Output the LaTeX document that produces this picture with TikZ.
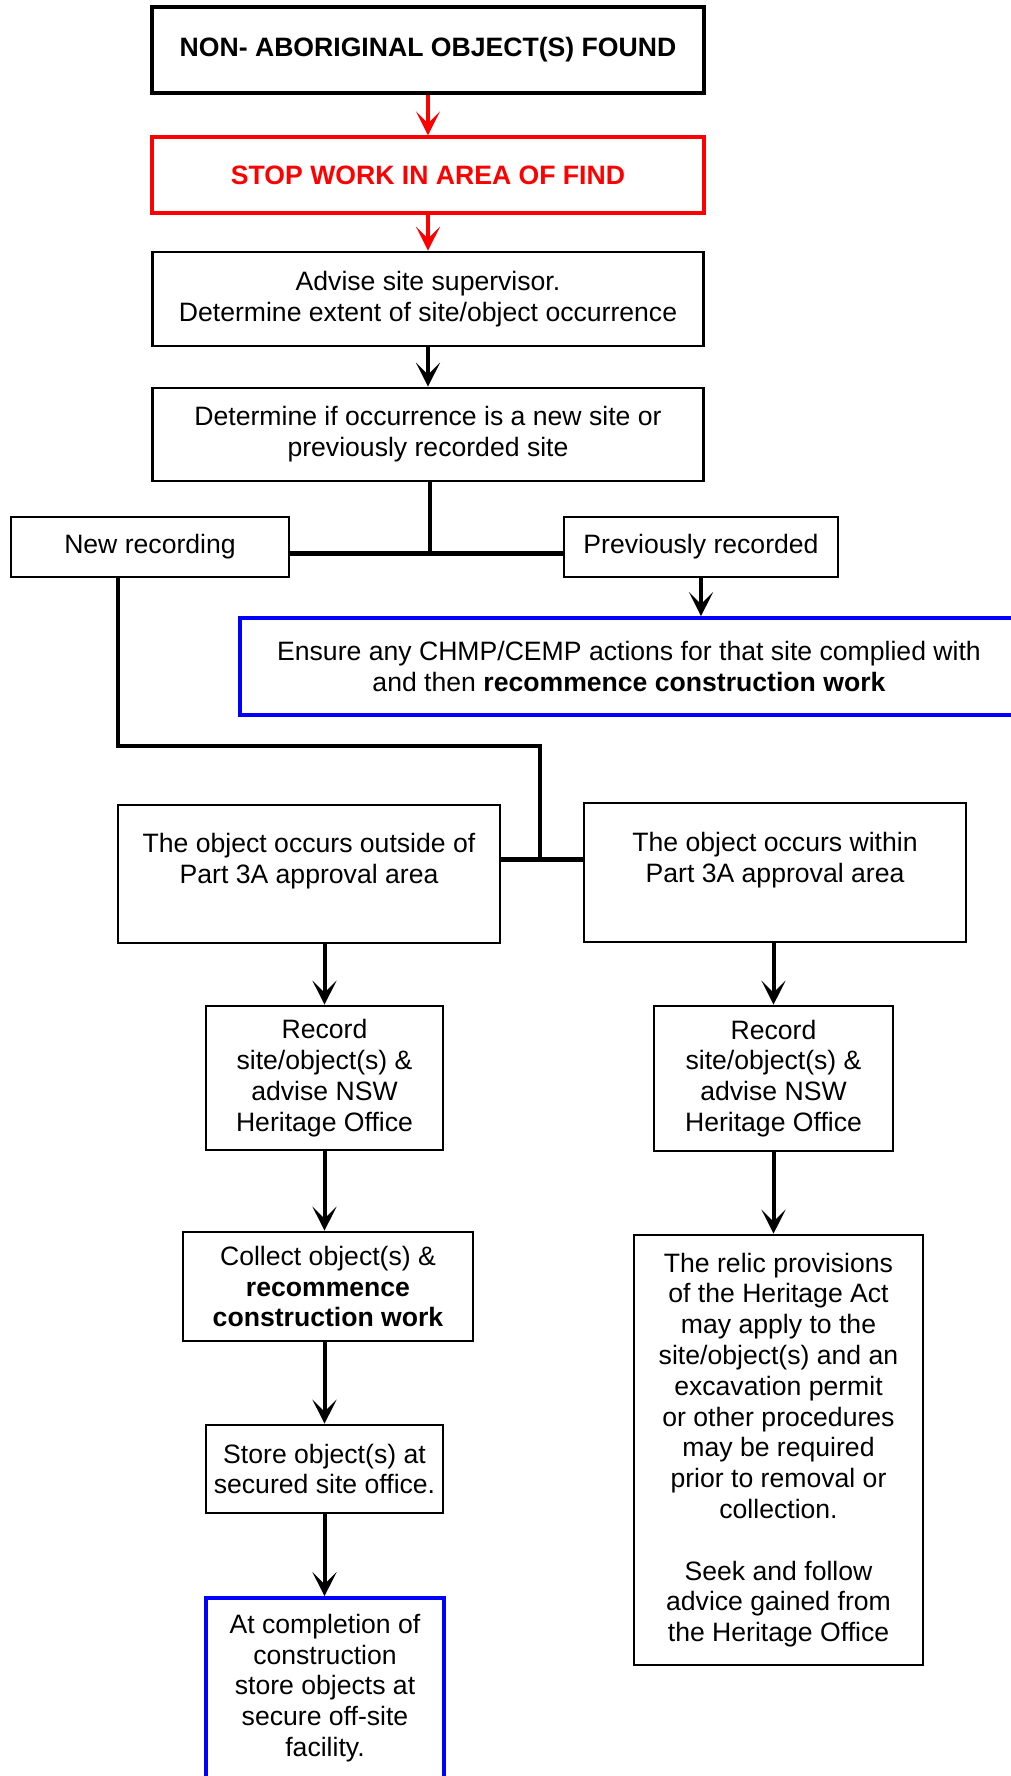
\documentclass[tikz,border=0pt]{standalone}
\usepackage{fontspec}
\setmainfont{Liberation Sans}
\usepackage{tikz}
\usetikzlibrary{arrows.meta}
\definecolor{stopred}{HTML}{FF0000}
\definecolor{resumeblue}{HTML}{0000FF}
\newcommand{\boxfont}{\fontsize{13.3}{15.4}\selectfont}

\begin{document}
\begin{tikzpicture}[x=0.5pt, y=0.5pt,
  >={Stealth[length=12pt, width=12pt, inset=6pt]},
  box/.style={draw, line width=1.3pt, align=center, inner sep=2pt, font=\boxfont},
  redbox/.style={box, draw=stopred, text=stopred, line width=1.6pt, font=\boxfont\bfseries},
  bluebox/.style={box, draw=resumeblue, line width=1.8pt},
  flow/.style={->, line width=2pt},
  link/.style={line width=2pt}]

  \useasboundingbox (0,0) rectangle (1011,-1776);

  % --- Find and stop ---
  \node[box, line width=1.8pt, font=\boxfont\bfseries, minimum width=276pt, minimum height=43pt]
    (found) at (428,-50) {NON- ABORIGINAL OBJECT(S) FOUND};
  \node[redbox, minimum width=276pt, minimum height=38pt]
    (stop) at (428,-175) {STOP WORK IN AREA OF FIND};
  \node[box, minimum width=275.5pt, minimum height=47pt]
    (advise) at (428,-299) {Advise site supervisor.\\Determine extent of site/object occurrence};
  \node[box, minimum width=275.5pt, minimum height=46.5pt]
    (determine) at (428,-434.5) {Determine if occurrence is a new site or\\previously recorded site};

  \draw[flow, stopred] (found) -- (stop);
  \draw[flow, stopred] (stop) -- (advise);
  \draw[flow] (advise) -- (determine);

  % --- New or previously recorded ---
  \node[box, minimum width=139pt, minimum height=30pt] (newrec) at (150,-547) {New recording};
  \node[box, minimum width=137pt, minimum height=30pt] (prevrec) at (701,-547) {Previously recorded};
  \node[bluebox, minimum width=389pt, minimum height=48.5pt] (ensure) at (629,-666.5)
    {Ensure any CHMP/CEMP actions for that site complied with\\and then \textbf{recommence construction work}};

  \coordinate (split) at (430,-553);
  \draw[link] (determine.south -| split) -- (split);
  \draw[link, line width=2.5pt] (newrec.east |- split) -- (prevrec.west |- split);
  \draw[flow] (prevrec.south) -- (prevrec.south |- ensure.north);

  % --- Inside or outside the approval area ---
  \node[box, minimum width=191pt, minimum height=69pt] (outside) at (309,-874)
    {The object occurs outside of\\Part 3A approval area\\~};
  \node[box, minimum width=191pt, minimum height=69.5pt] (within) at (775,-872.5)
    {The object occurs within\\Part 3A approval area\\~};

  \coordinate (bend) at (118,-746);
  \coordinate (join) at (540,-859);
  \draw[link] (newrec.south -| bend) -- (bend) -- (bend -| join) -- (join);
  \draw[link, line width=2.5pt] (outside.east |- join) -- (within.west |- join);

  % --- Left column: outside ---
  \node[box, minimum width=118.5pt, minimum height=72pt] (recordout) at (324.5,-1078)
    {Record\\site/object(s) \&\\advise NSW\\Heritage Office};
  \node[box, minimum width=145pt, minimum height=54.5pt] (collect) at (328,-1286.5)
    {Collect object(s) \&\\\textbf{recommence}\\\textbf{construction work}};
  \node[box, minimum width=118.5pt, minimum height=44pt] (store) at (324.5,-1469)
    {Store object(s) at\\secured site office.};
  \node[bluebox, minimum width=119pt, minimum height=90pt] (offsite) at (325,-1688)
    {At completion of\\construction\\store objects at\\secure off-site\\facility.};

  \draw[flow] (outside.south -| recordout) -- (recordout);
  \draw[flow] (recordout) -- (recordout |- collect.north);
  \draw[flow] (collect.south -| store) -- (store);
  \draw[flow] (store) -- (store |- offsite.north);

  % --- Right column: within ---
  \node[box, minimum width=119.5pt, minimum height=72.5pt] (recordin) at (773.5,-1078.5)
    {Record\\site/object(s) \&\\advise NSW\\Heritage Office};
  \node[box, minimum width=144.5pt, minimum height=215pt] (relic) at (778.5,-1450)
    {The relic provisions\\of the Heritage Act\\may apply to the\\site/object(s) and an\\excavation permit\\or other procedures\\may be required\\prior to removal or\\collection.\\~\\Seek and follow\\advice gained from\\the Heritage Office};

  \draw[flow] (within.south -| recordin) -- (recordin);
  \draw[flow] (recordin) -- (recordin |- relic.north);

\end{tikzpicture}
\end{document}
